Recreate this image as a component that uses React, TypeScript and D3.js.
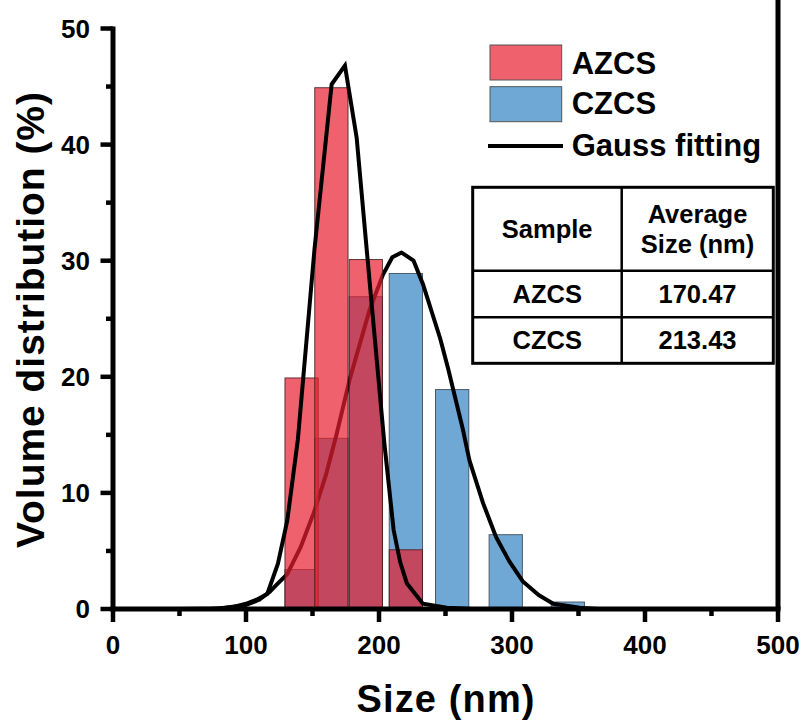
import React from "react";
import * as d3 from "d3";

// ---- data ----
const BIN_CENTERS = [141.8, 164.2, 190.1, 220.2, 255.0, 295.3, 342.0];
const AZCS_VALUES = [19.9, 44.9, 30.1, 5.1, 0, 0, 0];
const CZCS_VALUES = [3.4, 14.7, 26.9, 28.9, 18.9, 6.4, 0.6];
const BAR_WIDTH_NM = 25;

const AZCS_FIT_X = [50, 73, 90, 100, 108, 116, 124, 131, 139, 151.5, 164.4, 174.4, 183.2, 190.8, 204, 211, 216, 221, 233, 251, 270];
const AZCS_FIT_Y = [0, 0, 0.15, 0.45, 0.8, 1.3, 3.9, 7.6, 14.6, 31, 45.2, 46.8, 40.6, 30.9, 14.3, 6.8, 4.0, 2.2, 0.45, 0.1, 0];

const CZCS_FIT_X = [50, 80, 100, 110, 118, 124, 131, 141, 151, 160, 168, 178, 193, 203, 210, 217, 226, 233, 246, 252, 263, 268, 278, 288, 298, 308, 320, 331, 351, 365];
const CZCS_FIT_Y = [0, 0.05, 0.35, 0.8, 1.5, 2.2, 3.0, 5.3, 8.3, 11.5, 15.0, 19.8, 25.8, 28.8, 30.3, 30.7, 30.0, 28.0, 23.3, 20.7, 15.5, 12.8, 9.2, 6.2, 4.1, 2.4, 1.2, 0.45, 0.1, 0];

const X_TICKS = [0, 100, 200, 300, 400, 500];
const X_MINOR = [50, 150, 250, 350, 450];
const Y_TICKS = [0, 10, 20, 30, 40, 50];
const Y_MINOR = [5, 15, 25, 35, 45];

const SERIES_NAMES = ["AZCS", "CZCS"];
const FIT_NAME = "Gauss fitting";
const TABLE_HEAD_1 = "Sample";
const TABLE_HEAD_2 = ["Average", "Size (nm)"];
const TABLE_SAMPLES = ["AZCS", "CZCS"];
const TABLE_SIZES = ["170.47", "213.43"];

const X_TITLE = "Size (nm)";
const Y_TITLE = "Volume distribution (%)";

const FONT = "'Liberation Sans', Arial, Helvetica, sans-serif";
const RED = "rgba(232, 30, 45, 0.7)";
const BLUE = "#6fa7d5";

export default function App() {
  const W = 806, H = 722;
  const x = d3.scaleLinear().domain([0, 500]).range([113, 778]);
  const y = d3.scaleLinear().domain([0, 50]).range([609, 28.5]);

  const line = d3
    .line<[number, number]>()
    .x((d) => x(d[0]))
    .y((d) => y(d[1]))
    .curve(d3.curveLinear);

  const azFit = line(AZCS_FIT_X.map((v, i) => [v, AZCS_FIT_Y[i]] as [number, number])) || "";
  const czFit = line(CZCS_FIT_X.map((v, i) => [v, CZCS_FIT_Y[i]] as [number, number])) || "";

  const bw = x(BAR_WIDTH_NM) - x(0);

  const bars = (vals: number[], fill: string, stroke: string) =>
    BIN_CENTERS.map((c, i) =>
      vals[i] > 0 ? (
        <rect
          key={i}
          x={x(c) - bw / 2}
          y={y(vals[i])}
          width={bw}
          height={y(0) - y(vals[i])}
          fill={fill}
          stroke={stroke}
          strokeWidth={1}
        />
      ) : null
    );

  // table geometry
  const tL = 472.7, tR = 773.3, tT = 187.3, tB = 363.3, tC = 621.7;
  const r1 = 270.7, r2 = 317.3;
  const c1 = (tL + tC) / 2, c2 = (tC + tR) / 2;

  return (
    <svg
      width={W}
      height={H}
      style={{ position: "absolute", left: 0, top: 0, background: "#fff" }}
      fontFamily={FONT}
      fontWeight="bold"
    >
      <rect x={0} y={0} width={W} height={H} fill="#fff" />

      {/* blue bars */}
      <g>{bars(CZCS_VALUES, BLUE, "#4d5966")}</g>
      {/* CZCS fit (under red bars) */}
      <path d={czFit} fill="none" stroke="#000" strokeWidth={4} strokeLinejoin="round" />
      {/* red bars */}
      <g>{bars(AZCS_VALUES, RED, "rgba(70,30,30,0.85)")}</g>
      {/* AZCS fit */}
      <path d={azFit} fill="none" stroke="#000" strokeWidth={4} strokeLinejoin="miter" />

      {/* axes */}
      <g stroke="#000" strokeWidth={5}>
        <line x1={x(0)} x2={x(0)} y1={y(50) - 2} y2={y(0) + 2.5} />
        <line x1={x(0) - 2.5} x2={x(500) + 2.5} y1={y(0)} y2={y(0)} />
        <line x1={x(500)} x2={x(500)} y1={0} y2={y(0)} />
      </g>
      <g stroke="#000" strokeWidth={4.5}>
        {X_TICKS.map((t) => (
          <line key={"xt" + t} x1={x(t)} x2={x(t)} y1={y(0)} y2={y(0) + 13} />
        ))}
        {X_MINOR.map((t) => (
          <line key={"xm" + t} x1={x(t)} x2={x(t)} y1={y(0)} y2={y(0) + 7} />
        ))}
        {Y_TICKS.map((t) => (
          <line key={"yt" + t} x1={x(0) - 12.5} x2={x(0)} y1={y(t)} y2={y(t)} />
        ))}
        {Y_MINOR.map((t) => (
          <line key={"ym" + t} x1={x(0) - 7} x2={x(0)} y1={y(t)} y2={y(t)} />
        ))}
      </g>
      <g fontSize={26} fill="#000">
        {X_TICKS.map((t) => (
          <text key={"xl" + t} x={x(t)} y={654.3} textAnchor="middle">
            {t}
          </text>
        ))}
        {Y_TICKS.map((t) => (
          <text key={"yl" + t} x={90} y={y(t) + 9.3} textAnchor="end">
            {t}
          </text>
        ))}
      </g>

      {/* axis titles */}
      <text x={445.5} y={711.5} fontSize={38} textAnchor="middle" textLength={178} lengthAdjust="spacing">
        {X_TITLE}
      </text>
      <text
        transform={`translate(43.5, 320) rotate(-90)`}
        fontSize={39}
        textAnchor="middle"
        textLength={456}
        lengthAdjust="spacing"
      >
        {Y_TITLE}
      </text>

      {/* legend */}
      <rect x={490} y={45} width={71.7} height={35} fill={RED} stroke="#555" strokeWidth={1} />
      <rect x={490} y={86.7} width={71.7} height={35} fill={BLUE} stroke="#555" strokeWidth={1} />
      <line x1={488} x2={563} y1={146} y2={146} stroke="#000" strokeWidth={4} />
      <g fontSize={31}>
        <text x={571.7} y={74}>{SERIES_NAMES[0]}</text>
        <text x={571.7} y={113.5}>{SERIES_NAMES[1]}</text>
        <text x={571.7} y={155.5}>{FIT_NAME}</text>
      </g>

      {/* table */}
      <g stroke="#000" fill="none">
        <rect x={tL} y={tT} width={tR - tL} height={tB - tT} strokeWidth={3} />
        <line x1={tC} x2={tC} y1={tT} y2={tB} strokeWidth={2.5} />
        <line x1={tL} x2={tR} y1={r1} y2={r1} strokeWidth={2.5} />
        <line x1={tL} x2={tR} y1={r2} y2={r2} strokeWidth={2.5} />
      </g>
      <g fontSize={25.5} textAnchor="middle">
        <text x={c1} y={237.5}>{TABLE_HEAD_1}</text>
        <text x={c2} y={222.5}>{TABLE_HEAD_2[0]}</text>
        <text x={c2} y={252.5}>{TABLE_HEAD_2[1]}</text>
        <text x={c1} y={303.3}>{TABLE_SAMPLES[0]}</text>
        <text x={c2} y={303.3}>{TABLE_SIZES[0]}</text>
        <text x={c1} y={349}>{TABLE_SAMPLES[1]}</text>
        <text x={c2} y={349}>{TABLE_SIZES[1]}</text>
      </g>
    </svg>
  );
}
